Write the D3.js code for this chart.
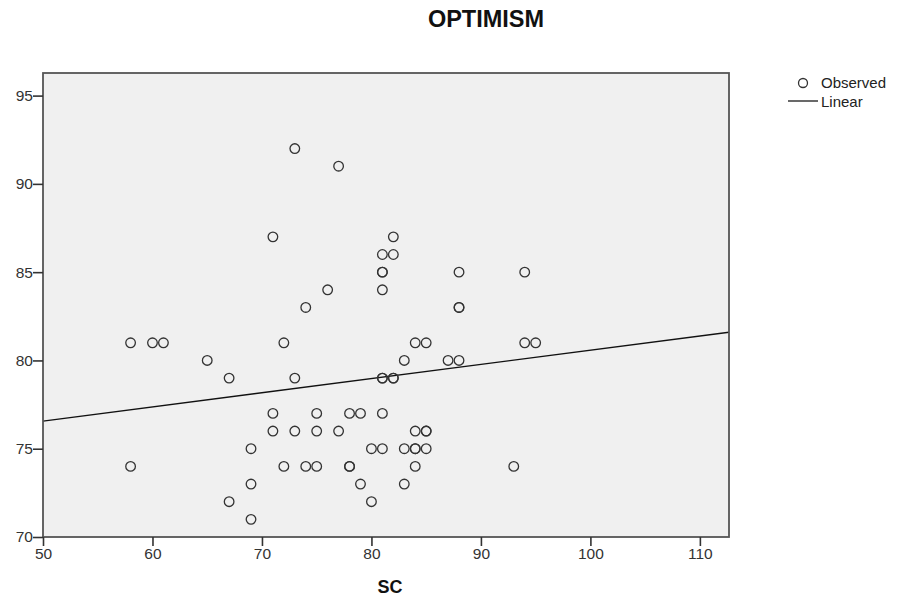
<!DOCTYPE html>
<html>
<head>
<meta charset="utf-8">
<script src="https://cdn.jsdelivr.net/npm/d3@7"></script>
<style>
  body { margin: 0; background: #fff; }
  text { font-family: "Liberation Sans", Arial, sans-serif; }
</style>
</head>
<body>
<svg id="chart"></svg>
<script>
// observed points (SC, OPTIMISM)
const scValues = [58, 60, 61, 65, 67, 72, 73, 71, 71, 73, 69, 58, 72, 69, 67, 69,
    73, 77, 71, 82, 81, 82, 81, 81, 88, 94, 76, 81, 74, 88, 88,
    84, 85, 94, 95, 83, 87, 88, 81, 81, 82, 82,
    75, 78, 79, 81, 75, 77, 84, 85, 85,
    80, 81, 83, 84, 84, 85, 74, 75, 78, 78, 84, 93, 79, 83, 80];
const optimismValues = [81, 81, 81, 80, 79, 81, 79, 77, 76, 76, 75, 74, 74, 73, 72, 71,
    92, 91, 87, 87, 86, 86, 85, 85, 85, 85, 84, 84, 83, 83, 83,
    81, 81, 81, 81, 80, 80, 80, 79, 79, 79, 79,
    77, 77, 77, 77, 76, 76, 76, 76, 76,
    75, 75, 75, 75, 75, 75, 74, 74, 74, 74, 74, 74, 73, 73, 72];

// linear fit
const fitIntercept = 72.54;
const fitSlope = 0.0804;

const xTicks = [50, 60, 70, 80, 90, 100, 110];
const yTicks = [70, 75, 80, 85, 90, 95];
const legendItems = ['Observed', 'Linear'];

const width = 901, height = 601;
const margin = { top: 73, right: 172, bottom: 64, left: 43 };
const innerW = width - margin.left - margin.right;
const innerH = height - margin.top - margin.bottom;

const svg = d3.select('#chart')
    .attr('width', width)
    .attr('height', height);

const chart = svg.append('g')
    .attr('transform', `translate(${margin.left}, ${margin.top})`);

const xscale = d3.scaleLinear()
    .domain([50, 112.66])
    .range([0, innerW]);

const yscale = d3.scaleLinear()
    .domain([70, 96.28])
    .range([innerH, 0]);

// plot background
chart.append('rect')
    .attr('width', innerW)
    .attr('height', innerH)
    .attr('fill', '#f0f0f0');

chart.append('clipPath').attr('id', 'clip')
    .append('rect').attr('width', innerW).attr('height', innerH);

// fit line
chart.append('line')
    .attr('clip-path', 'url(#clip)')
    .attr('x1', xscale(50))
    .attr('y1', yscale(fitIntercept + fitSlope * 50))
    .attr('x2', xscale(112.66))
    .attr('y2', yscale(fitIntercept + fitSlope * 112.66))
    .attr('stroke', '#111')
    .attr('stroke-width', 1.4);

// points
chart.selectAll('circle.pt')
    .data(d3.range(scValues.length))
    .enter()
    .append('circle')
    .attr('class', 'pt')
    .attr('cx', i => xscale(scValues[i]))
    .attr('cy', i => yscale(optimismValues[i]))
    .attr('r', 4.8)
    .attr('fill', 'none')
    .attr('stroke', '#333')
    .attr('stroke-width', 1.3);

// frame
chart.append('rect')
    .attr('width', innerW)
    .attr('height', innerH)
    .attr('fill', 'none')
    .attr('stroke', '#555')
    .attr('stroke-width', 1.8);

// axes
const xaxis = d3.axisBottom(xscale).tickValues(xTicks).tickSize(9).tickSizeOuter(0);
const yaxis = d3.axisLeft(yscale).tickValues(yTicks).tickSize(10).tickSizeOuter(0);

const xg = chart.append('g')
    .attr('transform', `translate(0, ${innerH})`)
    .call(xaxis);
const yg = chart.append('g').call(yaxis);

[xg, yg].forEach(g => {
    g.select('.domain').remove();
    g.selectAll('.tick line').attr('stroke', '#333').attr('stroke-width', 1.6);
    g.selectAll('.tick text')
        .attr('fill', '#333')
        .style('font-size', '15.5px')
        .style('font-family', '"Liberation Sans", Arial, sans-serif');
});
xg.selectAll('.tick text').attr('dy', null).attr('y', 22);
yg.selectAll('.tick text').attr('x', -10);

// titles
svg.append('text')
    .attr('x', 486)
    .attr('y', 27)
    .attr('text-anchor', 'middle')
    .style('font-size', '23.5px')
    .style('font-weight', 'bold')
    .attr('fill', '#111')
    .text('OPTIMISM');

svg.append('text')
    .attr('x', 390)
    .attr('y', 593)
    .attr('text-anchor', 'middle')
    .style('font-size', '18px')
    .style('font-weight', 'bold')
    .attr('fill', '#111')
    .text('SC');

// legend
const legend = svg.append('g').attr('transform', 'translate(803, 83)');
legend.append('circle')
    .attr('cx', 0).attr('cy', 0).attr('r', 4.5)
    .attr('fill', 'none').attr('stroke', '#333').attr('stroke-width', 1.3);
legend.append('line')
    .attr('x1', -15).attr('x2', 15).attr('y1', 18).attr('y2', 18)
    .attr('stroke', '#444').attr('stroke-width', 1.6);
legend.selectAll('text')
    .data(legendItems)
    .enter()
    .append('text')
    .attr('x', 18)
    .attr('y', (d, i) => i * 19 + 5)
    .style('font-size', '15px')
    .attr('fill', '#222')
    .text(d => d);
</script>
</body>
</html>
